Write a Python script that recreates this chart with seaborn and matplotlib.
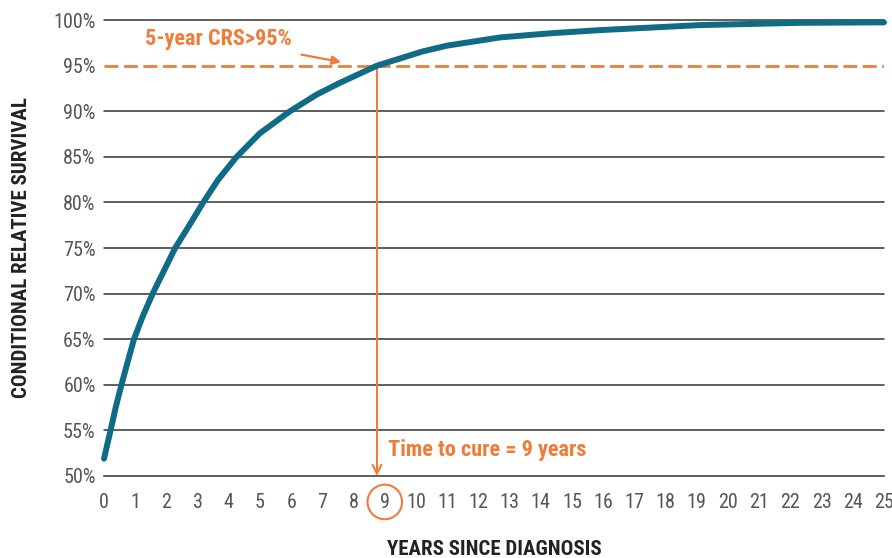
import seaborn as sns
import numpy as np
import pandas as pd
import matplotlib.pyplot as plt
from matplotlib.transforms import blended_transform_factory


# conditional relative survival curve
years = [0, 0.21, 0.38, 0.56, 0.75, 0.96, 1.24, 1.56, 2.28, 2.70, 3.18, 3.66,
         4.25, 5.0, 5.96, 6.8, 7.55, 8.75, 9.5, 10.2, 11.0, 12.7, 14.3, 15.9,
         19.1, 22.3, 25]
crs = [51.9, 55.0, 57.6, 60.0, 62.4, 65.0, 67.5, 70.0, 75.0, 77.3, 80.0, 82.5,
       85.0, 87.6, 90.0, 91.8, 93.1, 95.0, 95.8, 96.55, 97.2, 98.1, 98.55, 98.9,
       99.45, 99.7, 99.75]

threshold = 95
cure_year = 8.75
cure_label = 9
x_ticks = list(range(0, 26))
y_ticks = list(range(50, 101, 5))

TEAL = "#0f6b86"
ORANGE = "#ef7d3a"
GRAY = "#555555"
NARROW = ["Roboto Condensed", "Liberation Sans Narrow", "Roboto", "DejaVu Sans"]


def main():
    sns.set_theme(style="white")
    plt.rcParams["font.family"] = NARROW

    df = pd.DataFrame({"year": years, "crs": crs})

    fig = plt.figure(figsize=(8.92, 5.58), dpi=100)
    ax = fig.add_axes([0.1166, 0.147, 0.8744, 0.817])

    # horizontal grid lines
    for y in y_ticks[1:]:
        if y == threshold:
            continue
        ax.axhline(y, color="#333333", linewidth=1.1, zorder=1, clip_on=False)

    # 95% threshold
    ax.axhline(threshold, color=ORANGE, linewidth=2, dashes=(5, 2), zorder=2)

    sns.lineplot(data=df, x="year", y="crs", ax=ax, color=TEAL, linewidth=4.3,
                 solid_capstyle="round", solid_joinstyle="round",
                 zorder=4, clip_on=False)

    # drop arrow to the x axis
    ax.plot([cure_year, cure_year], [threshold, 52], color=ORANGE,
            linewidth=1.5, zorder=3)
    ax.annotate("", xy=(cure_year, 50), xytext=(cure_year, 53),
                arrowprops=dict(arrowstyle="->", color=ORANGE, lw=1.5,
                                mutation_scale=16, shrinkA=0, shrinkB=0),
                zorder=3)

    ax.annotate("5-year CRS>95%", xy=(7.6, 95.4), xytext=(1.3, 97.9),
                color=ORANGE, fontsize=16, fontweight="bold", va="center",
                ha="left",
                arrowprops=dict(arrowstyle="-|>", color=ORANGE, lw=1.6,
                                mutation_scale=13, shrinkA=5, shrinkB=0))

    ax.text(cure_year + 0.35, 52.9, f"Time to cure = {cure_label} years",
            color=ORANGE, fontsize=16, fontweight="bold", va="center",
            ha="left")

    # ring around the cure tick label
    trans = blended_transform_factory(ax.transData, ax.transAxes)
    ax.scatter([cure_label], [-0.057], s=620, facecolors="none",
               edgecolors=ORANGE, linewidths=1.5, transform=trans,
               clip_on=False, zorder=5)

    ax.set_xlim(0, 25)
    ax.set_ylim(50, 100)
    ax.set_xticks(x_ticks)
    ax.set_xticklabels([str(t) for t in x_ticks])
    ax.set_yticks(y_ticks)
    ax.set_yticklabels([f"{t}%" for t in y_ticks])

    ax.tick_params(axis="x", direction="inout", length=11, width=1.1,
                   color="#333333", labelsize=14.5, labelcolor=GRAY, pad=7)
    ax.tick_params(axis="y", length=0, labelsize=14.5, labelcolor=GRAY, pad=6)

    for side in ["left", "right", "top"]:
        ax.spines[side].set_visible(False)
    ax.spines["bottom"].set_color("#333333")
    ax.spines["bottom"].set_linewidth(1.1)

    ax.set_xlabel("YEARS SINCE DIAGNOSIS", fontsize=15, fontweight="bold",
                  color="#222222", labelpad=20)
    ax.set_ylabel("CONDITIONAL RELATIVE SURVIVAL", fontsize=15,
                  fontweight="bold", color="#222222", labelpad=16)

    fig.savefig("out.png", dpi=100)
    plt.close(fig)


if __name__ == "__main__":
    main()
